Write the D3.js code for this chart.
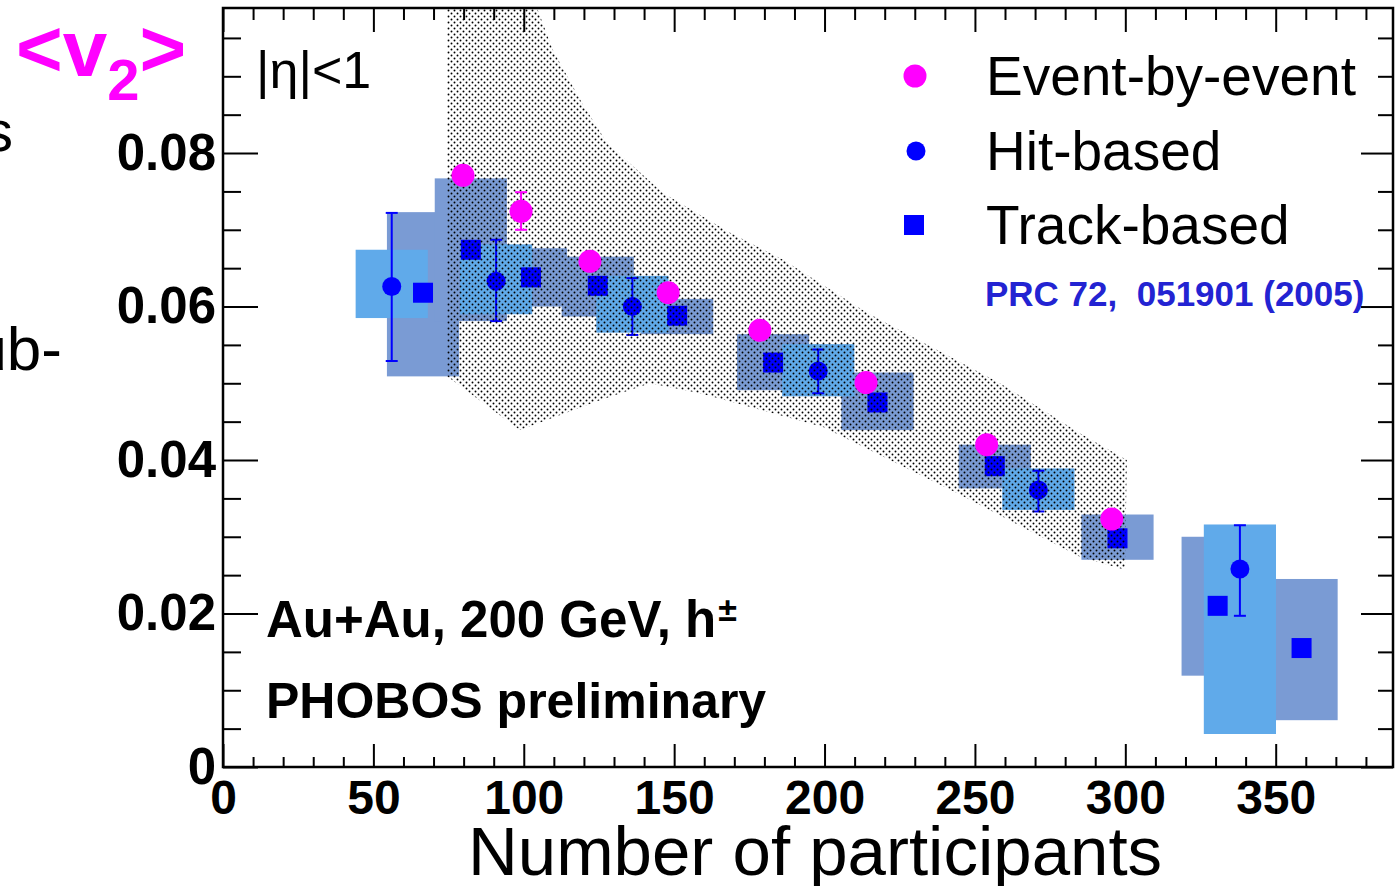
<!DOCTYPE html>
<html>
<head>
<meta charset="utf-8">
<script src="https://cdn.jsdelivr.net/npm/d3@7"></script>
<style>
  body { margin: 0; background: #fff; }
  text { font-family: "Liberation Sans", Arial, sans-serif; }
</style>
</head>
<body>
<div id="chart"></div>
<script>
// values
var hitN = [56.1, 90.8, 136.1, 197.9, 271.1, 338.1];
var hitV = [0.0626, 0.0633, 0.0600, 0.0516, 0.0361, 0.0258];
var hitErrLo = [0.0529, 0.0581, 0.0563, 0.0487, 0.0333, 0.0197];
var hitErrHi = [0.0722, 0.0687, 0.0637, 0.0544, 0.0386, 0.0315];
var hitSysLo = [0.0585, 0.0590, 0.0566, 0.0483, 0.0335, 0.0043];
var hitSysHi = [0.0674, 0.0681, 0.0640, 0.0551, 0.0389, 0.0316];

var trkN = [66.5, 82.4, 102.4, 124.6, 151, 182.9, 217.6, 256.6, 297.4, 330.7, 358.6];
var trkV = [0.0618, 0.0674, 0.0638, 0.0627, 0.0588, 0.0527, 0.0475, 0.0392, 0.0298, 0.0210, 0.0155];
var trkErrLo = [0.0610, 0.0668, 0.0633, 0.0622, 0.0583, 0.0522, 0.0470, 0.0387, 0.0293, 0.0204, 0.0149];
var trkErrHi = [0.0625, 0.0680, 0.0643, 0.0632, 0.0593, 0.0532, 0.0480, 0.0397, 0.0303, 0.0216, 0.0161];
var trkSysLo = [0.0509, 0.0581, 0.0600, 0.0587, 0.0564, 0.0491, 0.0439, 0.0363, 0.0270, 0.0119, 0.0061];
var trkSysHi = [0.0723, 0.0767, 0.0676, 0.0665, 0.0610, 0.0564, 0.0514, 0.0420, 0.0329, 0.0300, 0.0245];

var ebeN = [79.8, 99.1, 122, 148, 178.5, 213.8, 253.9, 295.5];
var ebeV = [0.0771, 0.0724, 0.0659, 0.0618, 0.0569, 0.0501, 0.0420, 0.0323];
var ebeErrLo = [0.0765, 0.0700, 0.0654, 0.0613, 0.0564, 0.0496, 0.0415, 0.0318];
var ebeErrHi = [0.0777, 0.0749, 0.0664, 0.0623, 0.0574, 0.0506, 0.0425, 0.0328];

// dotted band outline (N, v), clockwise from upper left
var bandN = [74.5, 102, 104.4, 109.7, 119.4, 127.7, 146.3, 168.6, 186.2, 214.1, 258.3, 284.9, 300.5,
             299.9, 284.9, 244, 199.5, 158.6, 142, 125.3, 98.7, 74.5];
var bandV = [0.104, 0.102, 0.0989, 0.0934, 0.0865, 0.0813, 0.0748, 0.0696, 0.0661, 0.0592, 0.0500, 0.0435, 0.0400,
             0.0257, 0.0274, 0.0357, 0.0443, 0.0487, 0.0500, 0.0478, 0.0439, 0.0509];

var xTicks = [0, 50, 100, 150, 200, 250, 300, 350];
var yTicks = [0, 0.02, 0.04, 0.06, 0.08];
var yTickLabels = ["0", "0.02", "0.04", "0.06", "0.08"];
var legendLabels = ["Event-by-event", "Hit-based", "Track-based"];

var svgWidth = 1400;
var svgHeight = 886;
var frame = {left: 223, right: 1393, top: 8, bottom: 767};
var halfW = 12; // half width of systematic boxes, in participants

var lightBlue = "#60aaea";
var darkBlue = "#7a9bd4";

var svg = d3.select("#chart")
  .append("svg")
  .attr("width", svgWidth)
  .attr("height", svgHeight);

var x = d3.scaleLinear().domain([0, 389]).range([frame.left, frame.right]);
var y = d3.scaleLinear().domain([0, 0.0989]).range([frame.bottom, frame.top]);

var defs = svg.append("defs");
var pat = defs.append("pattern")
  .attr("id", "dots")
  .attr("patternUnits", "userSpaceOnUse")
  .attr("width", 6)
  .attr("height", 6);
pat.append("circle").attr("cx", 1.5).attr("cy", 1.5).attr("r", 0.95).attr("fill", "#000");
pat.append("circle").attr("cx", 4.5).attr("cy", 4.5).attr("r", 0.95).attr("fill", "#000");

defs.append("clipPath").attr("id", "plotclip")
  .append("rect")
  .attr("x", frame.left).attr("y", frame.top)
  .attr("width", frame.right - frame.left)
  .attr("height", frame.bottom - frame.top);

var plot = svg.append("g").attr("clip-path", "url(#plotclip)");

// systematic boxes, track-based (dark) under hit-based (light)
plot.selectAll("rect.trk")
  .data(trkN)
  .enter()
  .append("rect")
  .attr("class", "trk")
  .attr("x", d => x(d - halfW))
  .attr("width", d => x(d + halfW) - x(d - halfW))
  .attr("y", (d, i) => y(trkSysHi[i]))
  .attr("height", (d, i) => y(trkSysLo[i]) - y(trkSysHi[i]))
  .attr("fill", darkBlue);

plot.selectAll("rect.hit")
  .data(hitN)
  .enter()
  .append("rect")
  .attr("class", "hit")
  .attr("x", d => x(d - halfW))
  .attr("width", d => x(d + halfW) - x(d - halfW))
  .attr("y", (d, i) => y(hitSysHi[i]))
  .attr("height", (d, i) => y(hitSysLo[i]) - y(hitSysHi[i]))
  .attr("fill", lightBlue);

// error bars with caps
function errorBars(g, ns, lo, hi, color, cap) {
  var grp = g.append("g").attr("stroke", color).attr("stroke-width", 2);
  ns.forEach(function(n, i) {
    grp.append("line").attr("x1", x(n)).attr("x2", x(n)).attr("y1", y(lo[i])).attr("y2", y(hi[i]));
    grp.append("line").attr("x1", x(n) - cap).attr("x2", x(n) + cap).attr("y1", y(lo[i])).attr("y2", y(lo[i]));
    grp.append("line").attr("x1", x(n) - cap).attr("x2", x(n) + cap).attr("y1", y(hi[i])).attr("y2", y(hi[i]));
  });
}

errorBars(plot, hitN, hitErrLo, hitErrHi, "#0000ff", 6);
errorBars(plot, trkN, trkErrLo, trkErrHi, "#0000ff", 6);

plot.selectAll("circle.hit")
  .data(hitN)
  .enter()
  .append("circle")
  .attr("class", "hit")
  .attr("cx", d => x(d))
  .attr("cy", (d, i) => y(hitV[i]))
  .attr("r", 9.5)
  .attr("fill", "#0000ff");

plot.selectAll("rect.trkpt")
  .data(trkN)
  .enter()
  .append("rect")
  .attr("class", "trkpt")
  .attr("x", d => x(d) - 10)
  .attr("y", (d, i) => y(trkV[i]) - 10)
  .attr("width", 20)
  .attr("height", 20)
  .attr("fill", "#0000ff");

// dotted band drawn over the blue points
var bandLine = d3.line()
  .x(d => x(d[0]))
  .y(d => y(d[1]));

plot.append("path")
  .datum(bandN.map((n, i) => [n, bandV[i]]))
  .attr("d", d => bandLine(d) + "Z")
  .attr("fill", "url(#dots)");

// event-by-event on top
errorBars(plot, ebeN, ebeErrLo, ebeErrHi, "#ff00ff", 6);
plot.selectAll("circle.ebe")
  .data(ebeN)
  .enter()
  .append("circle")
  .attr("class", "ebe")
  .attr("cx", d => x(d))
  .attr("cy", (d, i) => y(ebeV[i]))
  .attr("r", 11.5)
  .attr("fill", "#ff00ff");

// axes, ROOT style ticks pointing inwards
var xMinor = d3.range(0, 390, 10).filter(d => d % 50 != 0);
var yMinor = d3.range(0, 0.0989, 0.005).filter(d => Math.round(d * 1000) % 20 != 0);

function cleanAxis(g) {
  g.select(".domain").remove();
  g.selectAll("line").attr("stroke", "#000").attr("stroke-width", 2);
}

svg.append("g")
  .attr("transform", `translate(0, ${frame.bottom})`)
  .call(d3.axisBottom(x).tickValues(xTicks).tickSize(-23).tickPadding(13).tickFormat(d3.format("d")))
  .call(cleanAxis)
  .selectAll("text")
  .attr("font-size", 48)
  .attr("font-weight", "bold")
  .attr("fill", "#000");

svg.append("g")
  .attr("transform", `translate(0, ${frame.bottom})`)
  .call(d3.axisBottom(x).tickValues(xMinor).tickSize(-10).tickFormat(""))
  .call(cleanAxis);

svg.append("g")
  .attr("transform", `translate(0, ${frame.top})`)
  .call(d3.axisTop(x).tickValues(xTicks).tickSize(-24).tickFormat(""))
  .call(cleanAxis);

svg.append("g")
  .attr("transform", `translate(0, ${frame.top})`)
  .call(d3.axisTop(x).tickValues(xMinor).tickSize(-12).tickFormat(""))
  .call(cleanAxis);

svg.append("g")
  .attr("transform", `translate(${frame.left}, 0)`)
  .call(d3.axisLeft(y).tickValues(yTicks).tickSize(-35).tickPadding(7).tickFormat((d, i) => yTickLabels[i]))
  .call(cleanAxis)
  .selectAll("text")
  .attr("font-size", 51)
  .attr("font-weight", "bold")
  .attr("fill", "#000");

svg.append("g")
  .attr("transform", `translate(${frame.left}, 0)`)
  .call(d3.axisLeft(y).tickValues(yMinor).tickSize(-18).tickFormat(""))
  .call(cleanAxis);

svg.append("g")
  .attr("transform", `translate(${frame.right}, 0)`)
  .call(d3.axisRight(y).tickValues(yTicks).tickSize(-32).tickFormat(""))
  .call(cleanAxis);

svg.append("g")
  .attr("transform", `translate(${frame.right}, 0)`)
  .call(d3.axisRight(y).tickValues(yMinor).tickSize(-15).tickFormat(""))
  .call(cleanAxis);

// frame
svg.append("rect")
  .attr("x", frame.left)
  .attr("y", frame.top)
  .attr("width", frame.right - frame.left)
  .attr("height", frame.bottom - frame.top)
  .attr("fill", "none")
  .attr("stroke", "#000")
  .attr("stroke-width", 2.5);

// axis title
svg.append("text")
  .attr("x", 815)
  .attr("y", 875)
  .attr("text-anchor", "middle")
  .attr("font-size", 69)
  .text("Number of participants");

// <v2> label
var v2 = svg.append("text")
  .attr("x", 16)
  .attr("y", 76)
  .attr("font-size", 80)
  .attr("font-weight", "bold")
  .attr("fill", "#ff00ff");
v2.append("tspan").text("<v");
v2.append("tspan").attr("font-size", 58).attr("dy", 24).text("2");
v2.append("tspan").attr("dy", -24).text(">");

svg.append("text")
  .attr("x", 256)
  .attr("y", 88)
  .attr("font-size", 52)
  .text("|η|<1");

// cut-off text from the slide on the left
svg.append("text").attr("x", 13).attr("y", 151).attr("text-anchor", "end").attr("font-size", 58).text("s");
svg.append("text").attr("x", 62).attr("y", 370).attr("text-anchor", "end").attr("font-size", 62).text("ub-");

// legend
var legendY = [76, 151, 225];
var legend = svg.append("g");
legend.append("circle").attr("cx", 915).attr("cy", legendY[0]).attr("r", 11.5).attr("fill", "#ff00ff");
legend.append("circle").attr("cx", 916).attr("cy", legendY[1]).attr("r", 9.5).attr("fill", "#0000ff");
legend.append("rect").attr("x", 904).attr("y", legendY[2] - 10).attr("width", 20).attr("height", 20).attr("fill", "#0000ff");
legend.selectAll("text")
  .data(legendLabels)
  .enter()
  .append("text")
  .attr("x", 986)
  .attr("y", (d, i) => legendY[i] + 19)
  .attr("font-size", 55)
  .text(d => d);

svg.append("text")
  .attr("x", 985)
  .attr("y", 306)
  .attr("font-size", 35)
  .attr("font-weight", "bold")
  .attr("fill", "#2323d2")
  .style("white-space", "pre")
  .text("PRC 72,  051901 (2005)");

// labels bottom left
var au = svg.append("text")
  .attr("x", 266)
  .attr("y", 637)
  .attr("font-size", 51)
  .attr("font-weight", "bold");
au.append("tspan").text("Au+Au, 200 GeV, h");
au.append("tspan").attr("font-size", 34).attr("dx", 2).attr("dy", -16).text("±");

svg.append("text")
  .attr("x", 266)
  .attr("y", 718)
  .attr("font-size", 50)
  .attr("font-weight", "bold")
  .text("PHOBOS preliminary");
</script>
</body>
</html>
